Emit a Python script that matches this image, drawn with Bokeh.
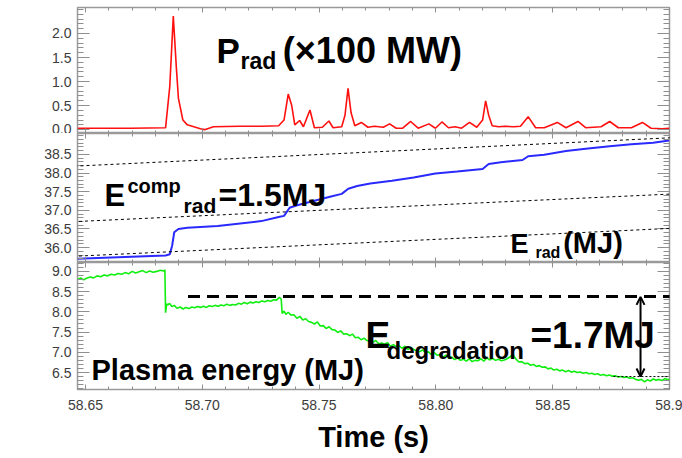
from bokeh.plotting import figure
from bokeh.layouts import column
from bokeh.models import FixedTicker, Range1d, LinearAxis, Label, Arrow, OpenHead
from bokeh.embed import file_html
from bokeh.resources import INLINE

# ---------------- data ----------------
prad_t = [58.6466, 58.6693, 58.6843, 58.6861, 58.6876, 58.6889, 58.6898, 58.6917, 58.6936,
          58.6964, 58.6992, 58.7010, 58.7048, 58.7159, 58.7253, 58.7327, 58.7350, 58.7368,
          58.7383, 58.7396, 58.7417, 58.7433, 58.7461, 58.7480, 58.7514, 58.7542, 58.7560,
          58.7597, 58.7611, 58.7624, 58.7637, 58.7653, 58.7681, 58.7709, 58.7737, 58.7775,
          58.7802, 58.7830, 58.7858, 58.7892, 58.7924, 58.7970, 58.7998, 58.8026, 58.8054,
          58.8082, 58.8110, 58.8144, 58.8175, 58.8200, 58.8213, 58.8226, 58.8241, 58.8269,
          58.8296, 58.8334, 58.8362, 58.8395, 58.8427, 58.8464, 58.8520, 58.8557, 58.8608,
          58.8641, 58.8707, 58.8744, 58.8781, 58.8837, 58.8884, 58.8921, 58.8968, 58.8999]
prad_v = [0.03, 0.03, 0.04, 0.90, 2.36, 1.30, 0.65, 0.20, 0.10,
          0.06, 0.02, 0.00, 0.06, 0.07, 0.07, 0.08, 0.20, 0.74,
          0.50, 0.10, 0.19, 0.06, 0.41, 0.04, 0.05, 0.18, 0.04,
          0.06, 0.30, 0.86, 0.35, 0.08, 0.15, 0.05, 0.07, 0.05,
          0.12, 0.03, 0.03, 0.17, 0.03, 0.12, 0.03, 0.16, 0.04,
          0.06, 0.03, 0.15, 0.05, 0.20, 0.60, 0.30, 0.08, 0.06,
          0.07, 0.06, 0.07, 0.27, 0.04, 0.04, 0.15, 0.04, 0.17,
          0.04, 0.06, 0.17, 0.04, 0.04, 0.15, 0.03, 0.02, 0.03]

erad_t = [58.6466, 58.6843, 58.6861, 58.6871, 58.6880, 58.6898, 58.6936, 58.7066, 58.7253,
          58.7327, 58.7350, 58.7374, 58.7402, 58.7439, 58.7551, 58.7597, 58.7625, 58.7663,
          58.7719, 58.7812, 58.7905, 58.7998, 58.8091, 58.8200, 58.8226, 58.8278, 58.8371,
          58.8395, 58.8464, 58.8557, 58.8651, 58.8744, 58.8837, 58.8930, 58.8999]
erad_v = [35.70, 35.79, 35.82, 36.05, 36.41, 36.50, 36.53, 36.58, 36.71,
          36.82, 36.85, 37.07, 37.13, 37.19, 37.37, 37.44, 37.58, 37.65,
          37.72, 37.79, 37.88, 37.99, 38.04, 38.11, 38.24, 38.29, 38.35,
          38.45, 38.49, 38.59, 38.66, 38.72, 38.77, 38.81, 38.87]

wp_t = [58.6466, 58.6480, 58.6492, 58.6505, 58.6520, 58.6535, 58.6550, 58.6565, 58.6580,
        58.6595, 58.6610, 58.6625, 58.6640, 58.6655, 58.6670, 58.6685, 58.6700, 58.6715,
        58.6730, 58.6745, 58.6760, 58.6775, 58.6790, 58.6805, 58.6820, 58.6835, 58.6840,
        58.6843, 58.6848, 58.6853, 58.6860, 58.6870, 58.6880, 58.6892, 58.6905, 58.6918,
        58.6930, 58.6943, 58.6955, 58.6968, 58.6980, 58.6993, 58.7005, 58.7018, 58.7030,
        58.7043, 58.7055, 58.7068, 58.7080, 58.7093, 58.7105, 58.7118, 58.7130, 58.7143,
        58.7155, 58.7168, 58.7180, 58.7193, 58.7205, 58.7218, 58.7230, 58.7243, 58.7255,
        58.7268, 58.7280, 58.7293, 58.7305, 58.7318, 58.7330, 58.7338,
        58.7342, 58.7350, 58.7358, 58.7368, 58.7380, 58.7392, 58.7405, 58.7418, 58.7430,
        58.7443, 58.7455, 58.7468, 58.7480, 58.7493, 58.7505, 58.7518, 58.7530, 58.7543,
        58.7555, 58.7568, 58.7580, 58.7593, 58.7605, 58.7618, 58.7630, 58.7643, 58.7655,
        58.7668, 58.7680, 58.7693, 58.7705, 58.7718, 58.7730, 58.7743, 58.7755, 58.7768,
        58.7780, 58.7793, 58.7805, 58.7818, 58.7830, 58.7843, 58.7855, 58.7868, 58.7880,
        58.7893, 58.7905, 58.7918, 58.7930, 58.7943, 58.7955, 58.7968, 58.7980, 58.7993,
        58.8005, 58.8018, 58.8030, 58.8043, 58.8055, 58.8068, 58.8080, 58.8093, 58.8105,
        58.8118, 58.8130, 58.8143, 58.8155, 58.8168, 58.8180, 58.8193, 58.8205, 58.8218,
        58.8230, 58.8243, 58.8255, 58.8268, 58.8280, 58.8293, 58.8305, 58.8318, 58.8330,
        58.8343, 58.8355, 58.8368, 58.8380, 58.8393, 58.8405, 58.8418, 58.8430, 58.8443,
        58.8455, 58.8468, 58.8480, 58.8493, 58.8505, 58.8518, 58.8530, 58.8543, 58.8555,
        58.8568, 58.8580, 58.8593, 58.8605, 58.8618, 58.8630, 58.8643, 58.8655, 58.8668,
        58.8680, 58.8693, 58.8705, 58.8718, 58.8730, 58.8743, 58.8755, 58.8768, 58.8780,
        58.8793, 58.8805, 58.8818, 58.8830, 58.8843, 58.8855, 58.8868, 58.8880, 58.8893,
        58.8905, 58.8918, 58.8930, 58.8943, 58.8955, 58.8968, 58.8980, 58.8993, 58.9000]
wp_v = [8.80, 8.84, 8.79, 8.83, 8.86, 8.84, 8.89, 8.87, 8.91,
        8.89, 8.93, 8.91, 8.95, 8.93, 8.97, 8.94, 9.00, 8.96,
        8.99, 9.02, 8.97, 9.01, 8.98, 9.00, 9.03, 9.01, 9.04,
        7.98, 8.20, 8.17, 8.21, 8.13, 8.16, 8.09, 8.12, 8.07,
        8.11, 8.08, 8.12, 8.10, 8.13, 8.11, 8.14, 8.11, 8.15,
        8.13, 8.16, 8.14, 8.17, 8.15, 8.19, 8.16, 8.18, 8.17,
        8.21, 8.19, 8.23, 8.20, 8.24, 8.22, 8.25, 8.23, 8.27,
        8.25, 8.28, 8.26, 8.30, 8.29, 8.36, 8.31,
        7.96, 8.02, 7.94, 7.99, 7.92, 7.93, 7.84, 7.89, 7.80,
        7.83, 7.76, 7.74, 7.70, 7.75, 7.65, 7.66, 7.59, 7.63,
        7.56, 7.55, 7.49, 7.53, 7.45, 7.46, 7.41, 7.45, 7.36,
        7.37, 7.31, 7.35, 7.29, 7.28, 7.25, 7.29, 7.21, 7.23,
        7.20, 7.24, 7.15, 7.19, 7.14, 7.16, 7.10, 7.15, 7.07,
        7.11, 7.07, 7.04, 7.01, 7.06, 6.99, 7.01, 6.95, 6.99,
        6.93, 6.94, 6.88, 6.93, 6.86, 6.88, 6.82, 6.86, 6.80,
        6.83, 6.78, 6.84, 6.77, 6.80, 6.79, 6.84, 6.78, 6.86,
        6.81, 6.85, 6.80, 6.83, 6.79, 6.81, 6.84, 6.89, 6.94,
        6.83, 6.76, 6.77, 6.72, 6.73, 6.68, 6.70, 6.65, 6.67,
        6.63, 6.64, 6.59, 6.61, 6.56, 6.58, 6.54, 6.56, 6.52,
        6.55, 6.51, 6.53, 6.50, 6.51, 6.48, 6.50, 6.47, 6.48,
        6.45, 6.47, 6.43, 6.45, 6.42, 6.44, 6.41, 6.42, 6.39,
        6.40, 6.38, 6.39, 6.36, 6.37, 6.33, 6.31, 6.33, 6.27,
        6.32, 6.29, 6.34, 6.31, 6.33, 6.30, 6.35, 6.32, 6.34]

x_ticks = [58.65, 58.70, 58.75, 58.80, 58.85, 58.90]
x_tick_labels = ["58.65", "58.70", "58.75", "58.80", "58.85", "58.9"]
prad_ticks = [0.0, 0.5, 1.0, 1.5, 2.0]
erad_ticks = [36.0, 36.5, 37.0, 37.5, 38.0, 38.5]
wp_ticks = [6.5, 7.0, 7.5, 8.0, 8.5, 9.0]

x_minor = [round(58.64 + 0.01 * i, 2) for i in range(27)]
prad_minor = [round(0.1 * i, 1) for i in range(26)]
erad_minor = [round(35.6 + 0.1 * i, 1) for i in range(36)]
wp_minor = [round(6.1 + 0.1 * i, 1) for i in range(32)]

X0, X1 = 58.6466, 58.900
GREY = "#8f8f8f"
BOLD = "Liberation Sans"


def style_axis(ax, ticks, minor, with_labels, tick_in, minor_in, texts=None):
    ax.ticker = FixedTicker(ticks=ticks, minor_ticks=minor)
    ax.axis_line_color = None
    ax.major_tick_in = tick_in
    ax.major_tick_out = 0
    ax.minor_tick_in = minor_in
    ax.minor_tick_out = 0
    ax.major_tick_line_color = GREY
    ax.minor_tick_line_color = GREY
    if with_labels:
        ax.major_label_text_font = "Liberation Sans"
        ax.major_label_text_font_size = "14px"
        ax.major_label_text_color = "#3c3c3c"
        if texts is None:
            texts = ["%.1f" % t for t in ticks]
        ax.major_label_overrides = dict(zip(ticks, texts))
    else:
        ax.major_label_overrides = {t: "" for t in ticks}
        ax.major_label_text_font_size = "0px"
        ax.major_label_standoff = 0


def panel(frame_h, yr, yticks, yminor, top, bottom, xlabels):
    p = figure(frame_width=592, frame_height=frame_h,
               x_range=Range1d(X0, X1), y_range=Range1d(*yr),
               x_axis_location=None, y_axis_location=None,
               toolbar_location=None, output_backend="svg",
               min_border_left=77, min_border_right=13,
               min_border_top=top, min_border_bottom=bottom)
    p.grid.visible = False
    p.outline_line_color = "#9a9a9a"
    p.outline_line_width = 1.5
    p.background_fill_color = "white"
    p.border_fill_color = "white"

    yl = LinearAxis()
    style_axis(yl, yticks, yminor, True, 12, 6)
    yl.major_label_standoff = 6
    p.add_layout(yl, "left")
    yr_ax = LinearAxis()
    style_axis(yr_ax, yticks, yminor, False, 12, 6)
    p.add_layout(yr_ax, "right")

    xa = LinearAxis()
    style_axis(xa, x_ticks, x_minor, False, 5, 3)
    p.add_layout(xa, "above")
    xb = LinearAxis()
    style_axis(xb, x_ticks, x_minor, xlabels, 5, 3, x_tick_labels)
    if xlabels:
        xb.major_label_standoff = 10
        xb.axis_label = "Time (s)"
        xb.axis_label_text_font = BOLD
        xb.axis_label_text_font_style = "bold"
        xb.axis_label_text_font_size = "29px"
        xb.axis_label_text_color = "black"
        xb.axis_label_standoff = 8
    p.add_layout(xb, "below")
    return p


def lab(p, x, y, text, size, font=BOLD):
    p.add_layout(Label(x=x, y=y, text=text, text_font=font, text_font_style="bold",
                       text_font_size=size, text_color="black",
                       text_align="left", text_baseline="alphabetic"))


# ---------------- top: P_rad ----------------
p1 = panel(126, (-0.08, 2.54), prad_ticks, prad_minor, 7, 0, False)
p1.line(prad_t, prad_v, line_color="#ff1010", line_width=1.6)
lab(p1, 58.7061, 1.64, "P", "35px")
lab(p1, 58.7164, 1.42, "rad", "23px")
lab(p1, 58.7345, 1.64, "(\u00d7100 MW)", "36px")

# ---------------- middle: E_rad ----------------
p2 = panel(129, (35.60, 39.06), erad_ticks, erad_minor, 0, 0, False)
p2.line(erad_t, erad_v, line_color="#2a2aff", line_width=2)
for (xs, ys, xe, ye) in [(58.6171, 38.10, 58.9055, 38.96),
                         (58.6190, 36.62, 58.9055, 37.45),
                         (58.6190, 35.69, 58.9055, 36.53)]:
    p2.add_layout(Arrow(end=None, x_start=xs, y_start=ys, x_end=xe, y_end=ye,
                        line_color="black", line_width=1, line_dash="3 3"))
lab(p2, 58.6582, 37.40, "E", "31px")
lab(p2, 58.6680, 37.64, "comp", "20px")
lab(p2, 58.6920, 37.12, "rad", "21px")
lab(p2, 58.7070, 37.40, "=1.5MJ", "32px")
lab(p2, 58.8319, 36.10, "E", "27px")
lab(p2, 58.8426, 35.86, "rad", "16px")
lab(p2, 58.8545, 36.11, " (MJ)", "29px")

# ---------------- bottom: plasma energy ----------------
p3 = panel(127, (6.08, 9.22), wp_ticks, wp_minor, 0, 66, True)
p3.line(wp_t, wp_v, line_color="#10ee10", line_width=1.6)
p3.add_layout(Arrow(end=None, x_start=58.6939, y_start=8.38, x_end=58.9055, y_end=8.38,
                    line_color="black", line_width=3, line_dash="12 7"))
p3.add_layout(Arrow(end=None, x_start=58.8760, y_start=6.40, x_end=58.9000, y_end=6.40,
                    line_color="black", line_width=1, line_dash="2 2"))
p3.add_layout(Arrow(start=OpenHead(size=8, line_width=2), end=OpenHead(size=8, line_width=2),
                    x_start=58.8876, y_start=8.37, x_end=58.8876, y_end=6.40,
                    line_color="black", line_width=2))
lab(p3, 58.6526, 6.57, "Plasma energy (MJ)", "29px")
lab(p3, 58.7699, 7.42, "E", "37px")
lab(p3, 58.7789, 7.05, "degradation", "24px")
lab(p3, 58.8405, 7.42, "=1.7MJ", "37px")

layout = column(p1, p2, p3, spacing=0)
open("out.html", "w").write(file_html(layout, INLINE))
